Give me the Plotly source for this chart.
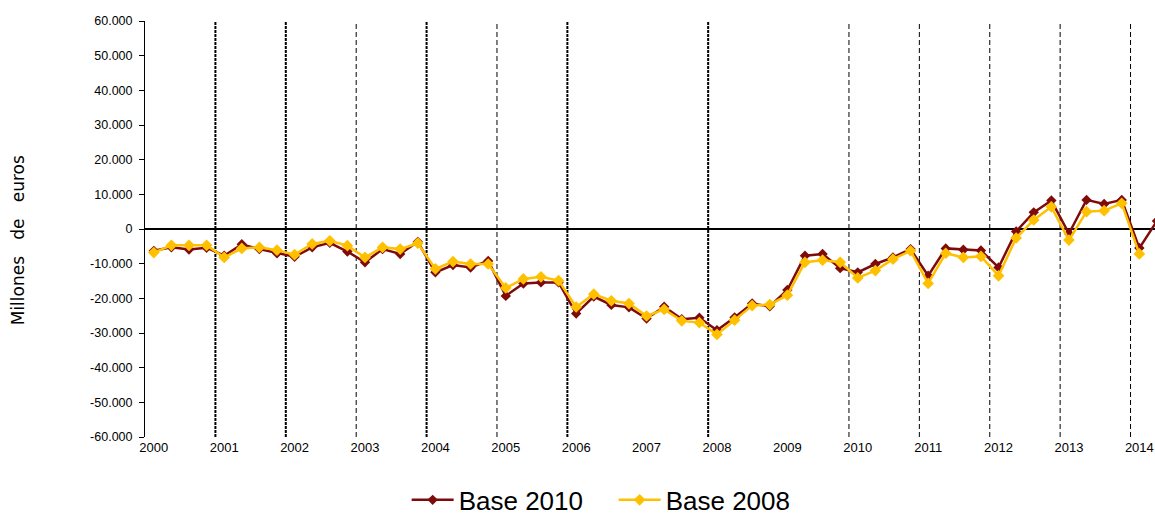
import plotly.graph_objects as go

years = list(range(2000, 2015))
quarters = [f"{y}-T{q}" for y in years for q in range(1, 5)][:58]

base_2010 = [
    -6300, -5300, -5900, -5400,
    -7700, -4400, -5800, -7000,
    -8000, -5300, -4000, -6500,
    -9600, -5800, -7200, -3700,
    -12500, -10400, -11100, -9200,
    -19300, -15700, -15400, -15400,
    -24400, -19500, -21900, -22600,
    -25800, -22400, -26000, -25600,
    -29200, -25500, -21500, -22300,
    -17600, -7700, -7200, -11300,
    -12500, -10100, -8200, -5800,
    -13500, -5600, -6000, -6200,
    -11100, -700, 4800, 8200,
    -1300, 8400, 7200, 8400,
    -5500, 2300,
]
base_2008 = [
    -6800, -4700, -4700, -4700,
    -8200, -5600, -5300, -6100,
    -7400, -4300, -3400, -4800,
    -8200, -5300, -5800, -4100,
    -11500, -9400, -10100, -10100,
    -17000, -14400, -13800, -14900,
    -22500, -18800, -20700, -21500,
    -25100, -23200, -26500, -27000,
    -30400, -26300, -22100, -21800,
    -19100, -9600, -9000, -9600,
    -14100, -12000, -8700, -6300,
    -15700, -7000, -8200, -7900,
    -13500, -2600, 2600, 6400,
    -3200, 5000, 5300, 7400,
    -7200,
]

y_ticks = list(range(-60000, 60001, 10000))
y_ticktext = [f"{v:,}".replace(",", ".") for v in y_ticks]
x_tick_years = years
boundary_years = [2001, 2002, 2003, 2004, 2005, 2006, 2008, 2010, 2011, 2012, 2013, 2014]
bold_boundary_years = [2001, 2002, 2004, 2006, 2008]

RED = "#7F0A0A"
YEL = "#FFC000"
FONT = "Liberation Sans, Arial, sans-serif"

def idx(label):
    return quarters.index(label)

x10 = [idx(q) for q in quarters[:len(base_2010)]]
x08 = [idx(q) for q in quarters[:len(base_2008)]]

fig = go.Figure()
fig.add_trace(go.Scatter(
    x=x10, y=base_2010, mode="lines+markers", name="Base 2010",
    line=dict(color=RED, width=2.5),
    marker=dict(symbol="diamond", size=8, color=RED),
))
fig.add_trace(go.Scatter(
    x=x08, y=base_2008, mode="lines+markers", name="Base 2008",
    line=dict(color=YEL, width=2.5),
    marker=dict(symbol="diamond", size=9, color=YEL),
))

shapes = []
for yr in boundary_years:
    xb = idx(f"{yr}-T1") - 0.5
    bold = yr in bold_boundary_years
    shapes.append(dict(
        type="line", xref="x", yref="paper", x0=xb, x1=xb, y0=0, y1=1,
        line=dict(color="black", width=2 if bold else 1,
                  dash="3px,1px" if bold else "5px,3px"),
        layer="below",
    ))

fig.update_layout(
    width=1155, height=517,
    margin=dict(l=145, r=0, t=21, b=80, autoexpand=False),
    paper_bgcolor="white", plot_bgcolor="white",
    font=dict(family=FONT, color="black"),
    shapes=shapes,
    showlegend=True,
    legend=dict(
        orientation="h", xref="container", yref="container",
        x=0.5313, xanchor="center", y=0.033, yanchor="middle",
        font=dict(size=26, family=FONT),
        itemwidth=42,
        entrywidth=150, entrywidthmode="pixels",
        bgcolor="rgba(0,0,0,0)",
    ),
    annotations=[dict(
        text="Millones\u00a0\u00a0 de\u00a0\u00a0 euros", xref="paper", yref="paper",
        x=-0.1257, y=0.473, textangle=-90, showarrow=False,
        font=dict(size=17, family="DejaVu Sans, Liberation Sans, sans-serif"),
        xanchor="center", yanchor="middle",
    )],
)

fig.update_xaxes(
    range=[-0.5, (len(quarters) - 1) - 0.11],
    tickmode="array",
    tickvals=[idx(f"{y}-T1") for y in x_tick_years],
    ticktext=[str(y) for y in x_tick_years],
    showline=False, showgrid=False, zeroline=False,
    ticks="", ticklabelstandoff=1, automargin=False,
    ticklabeloverflow="allow",
    tickfont=dict(size=13, family=FONT),
)
fig.update_yaxes(
    range=[-60000, 60000],
    tickmode="array", tickvals=y_ticks, ticktext=y_ticktext,
    showline=True, linecolor="black", linewidth=1,
    ticks="outside", ticklen=5, tickcolor="black", tickwidth=1,
    showgrid=False, zeroline=True, zerolinecolor="black", zerolinewidth=1.5,
    tickfont=dict(size=12.5, family=FONT), ticklabelstandoff=4,
    automargin=False,
)

fig.write_html(
    "out.html",
    config={"displayModeBar": False},
    post_script="document.body.style.margin='0';document.body.style.overflow='hidden';",
)
